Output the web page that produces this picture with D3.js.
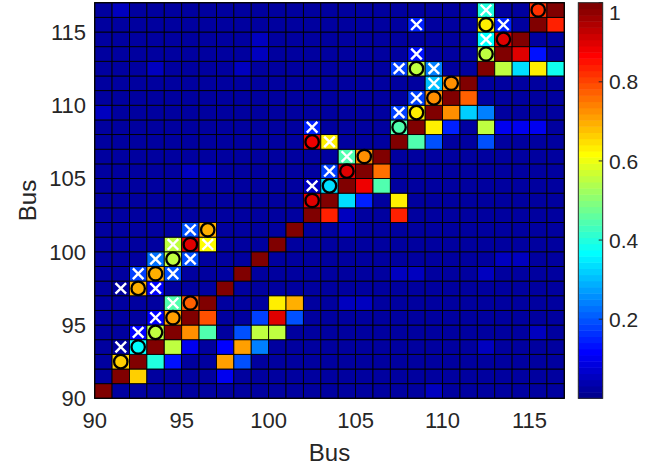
<!DOCTYPE html>
<html>
<head>
<meta charset="utf-8">
<script src="https://cdn.jsdelivr.net/npm/d3@7"></script>
<style>
  body { margin: 0; background: #fff; }
  text { font-family: "Liberation Sans", Arial, sans-serif; fill: #262626; }
</style>
</head>
<body>
<div id="chart"></div>
<script>
// bus numbers on both axes (one cell per bus)
var buses = [90, 91, 92, 93, 94, 95, 96, 97, 98, 99, 100, 101, 102, 103,
  104, 105, 106, 107, 108, 109, 110, 111, 112, 113, 114, 115, 116];
var xTicks = [90, 95, 100, 105, 110, 115];
var yTicks = [90, 95, 100, 105, 110, 115];
var cbTicks = [0.2, 0.4, 0.6, 0.8, 1];

var baseValue = 0.03;   // most cells
var diagValue = 1;      // bus with itself

// slightly lighter background cells [xBus, yBus, value]
var faintCells = [
  [99, 114, 0.06], [99, 113, 0.05], [93, 112, 0.06], [90, 109, 0.05],
  [96, 105, 0.06], [95, 105, 0.05], [98, 112, 0.05], [91, 116, 0.05],
  [113, 99, 0.06], [114, 99, 0.06], [107, 98, 0.05], [108, 98, 0.05],
  [112, 98, 0.05], [112, 93, 0.05], [109, 90, 0.05], [104, 101, 0.05],
  [115, 94, 0.05], [104, 96, 0.05], [105, 96, 0.05]
];

// cells off the diagonal that stand out [xBus, yBus, value]
var hotCells = [
  [92, 91, 0.66], [97, 91, 0.1],
  [91, 92, 0.66], [93, 92, 0.4], [94, 92, 0.13], [97, 92, 0.71], [98, 92, 0.2],
  [92, 93, 0.37], [94, 93, 0.55], [95, 93, 0.1], [97, 93, 0.12], [98, 93, 0.71], [99, 93, 0.24],
  [92, 94, 0.12], [93, 94, 0.55], [95, 94, 0.72], [96, 94, 0.44], [98, 94, 0.2], [99, 94, 0.55], [100, 94, 0.55],
  [93, 95, 0.12], [94, 95, 0.71], [96, 95, 0.79], [99, 95, 0.18], [100, 95, 0.9], [101, 95, 0.2],
  [94, 96, 0.44], [95, 96, 0.78], [100, 96, 0.63], [101, 96, 0.7],
  [92, 97, 0.7], [93, 97, 0.12],
  [92, 98, 0.18], [93, 98, 0.7], [94, 98, 0.2],
  [93, 99, 0.22], [94, 99, 0.55], [95, 99, 0.2],
  [94, 100, 0.55], [95, 100, 0.9], [96, 100, 0.62],
  [95, 101, 0.2], [96, 101, 0.7],
  [103, 102, 0.84], [104, 102, 0.06], [107, 102, 0.84],
  [102, 103, 0.9], [104, 103, 0.33], [105, 103, 0.15], [107, 103, 0.63],
  [102, 104, 0.06], [103, 104, 0.33], [105, 104, 0.88], [106, 104, 0.44],
  [103, 105, 0.18], [104, 105, 0.9], [106, 105, 0.76],
  [104, 106, 0.44], [105, 106, 0.73],
  [102, 107, 0.88], [103, 107, 0.63], [108, 107, 0.44], [109, 107, 0.2], [112, 107, 0.2],
  [102, 108, 0.15], [107, 108, 0.44], [109, 108, 0.63], [110, 108, 0.15], [112, 108, 0.55],
  [113, 108, 0.1], [114, 108, 0.1], [115, 108, 0.1],
  [107, 109, 0.18], [108, 109, 0.63], [110, 109, 0.72], [111, 109, 0.32], [112, 109, 0.24],
  [108, 110, 0.18], [109, 110, 0.72], [111, 110, 0.78],
  [109, 111, 0.3], [110, 111, 0.73],
  [107, 112, 0.18], [108, 112, 0.55], [109, 112, 0.24], [113, 112, 0.55], [114, 112, 0.33],
  [115, 112, 0.63], [116, 112, 0.38],
  [108, 113, 0.13], [112, 113, 0.55], [114, 113, 0.9], [115, 113, 0.14],
  [112, 114, 0.36], [113, 114, 0.9],
  [108, 115, 0.15], [112, 115, 0.63], [113, 115, 0.15], [116, 115, 0.83],
  [112, 116, 0.4], [115, 116, 0.82]
];

// circle markers [xBus, yBus]
var circleMarks = [
  [91, 92], [92, 93], [93, 94], [94, 95], [95, 96], [92, 97], [93, 98], [94, 99],
  [95, 100], [96, 101], [102, 103], [103, 104], [104, 105], [105, 106], [102, 107],
  [107, 108], [108, 109], [109, 110], [110, 111], [108, 112], [112, 113], [113, 114],
  [112, 115], [115, 116]
];

// cross markers [xBus, yBus]
var crossMarks = [
  [91, 93], [92, 94], [93, 95], [94, 96], [91, 97], [93, 97], [92, 98], [94, 98],
  [93, 99], [95, 99], [94, 100], [96, 100], [95, 101], [102, 104], [103, 105],
  [104, 106], [103, 107], [102, 108], [107, 109], [108, 110], [109, 111], [107, 112],
  [109, 112], [108, 113], [112, 114], [108, 115], [113, 115], [112, 116]
];

// matlab jet(64)
function jet64() {
  var n = 16, u = [];
  for (var i = 1; i <= n; i++) u.push(i / n);
  for (var i = 0; i < n - 1; i++) u.push(1);
  for (var i = n; i >= 1; i--) u.push(i / n);
  var get = k => (k >= 1 && k <= u.length) ? u[k - 1] : 0;
  var cols = [];
  for (var k = 1; k <= 64; k++) {
    cols.push(d3.rgb(get(k - 24) * 255, get(k - 8) * 255, get(k + 8) * 255).formatHex());
  }
  return cols;
}
var colorScale = d3.scaleQuantize().domain([0, 1]).range(jet64());

// build the cell table
var cellMap = new Map();
buses.forEach(yb => buses.forEach(xb => {
  cellMap.set(xb + "," + yb, {x: xb, y: yb, v: xb === yb ? diagValue : baseValue});
}));
faintCells.concat(hotCells).forEach(c => { cellMap.get(c[0] + "," + c[1]).v = c[2]; });
var cells = Array.from(cellMap.values());

var svgWidth = 659, svgHeight = 467;
var plot = {left: 94.7, right: 564.3, top: 2.7, bottom: 398.3};

var svg = d3.select("#chart").append("svg")
  .attr("width", svgWidth)
  .attr("height", svgHeight);

var x = d3.scaleLinear().domain([90, 117]).range([plot.left, plot.right]);
var y = d3.scaleLinear().domain([90, 117]).range([plot.bottom, plot.top]);

// heatmap cells
svg.append("g").selectAll("rect")
  .data(cells)
  .enter()
  .append("rect")
  .attr("x", d => x(d.x))
  .attr("y", d => y(d.y + 1))
  .attr("width", d => x(d.x + 1) - x(d.x))
  .attr("height", d => y(d.y) - y(d.y + 1))
  .attr("fill", d => colorScale(d.v))
  .attr("stroke", "#000")
  .attr("stroke-width", 0.9);

// circles, filled like their cell
svg.append("g").selectAll("circle")
  .data(circleMarks)
  .enter()
  .append("circle")
  .attr("cx", d => x(d[0] + 0.5))
  .attr("cy", d => y(d[1] + 0.5))
  .attr("r", 6.7)
  .attr("fill", d => colorScale(cellMap.get(d[0] + "," + d[1]).v))
  .attr("stroke", "#000")
  .attr("stroke-width", 2.3);

// white crosses
var s = 5.3;
svg.append("g").selectAll("path")
  .data(crossMarks)
  .enter()
  .append("path")
  .attr("d", d => {
    var cx = x(d[0] + 0.5), cy = y(d[1] + 0.5);
    return `M${cx - s},${cy - s}L${cx + s},${cy + s}M${cx - s},${cy + s}L${cx + s},${cy - s}`;
  })
  .attr("stroke", "#fff")
  .attr("stroke-width", 2.4)
  .attr("fill", "none");

// plot frame
svg.append("rect")
  .attr("x", plot.left).attr("y", plot.top)
  .attr("width", plot.right - plot.left).attr("height", plot.bottom - plot.top)
  .attr("fill", "none").attr("stroke", "#000").attr("stroke-width", 1.2);

// tick labels
svg.append("g").selectAll("text")
  .data(xTicks)
  .enter()
  .append("text")
  .attr("x", d => x(d))
  .attr("y", 428)
  .attr("text-anchor", "middle")
  .attr("font-size", 22)
  .text(d => d);

svg.append("g").selectAll("text")
  .data(yTicks)
  .enter()
  .append("text")
  .attr("x", 86)
  .attr("y", d => y(d))
  .attr("dy", "0.36em")
  .attr("text-anchor", "end")
  .attr("font-size", 22)
  .text(d => d);

// axis titles
svg.append("text")
  .attr("x", (plot.left + plot.right) / 2)
  .attr("y", 461)
  .attr("text-anchor", "middle")
  .attr("font-size", 24)
  .text("Bus");

svg.append("text")
  .attr("transform", `translate(36, ${(plot.top + plot.bottom) / 2}) rotate(-90)`)
  .attr("text-anchor", "middle")
  .attr("font-size", 24)
  .text("Bus");

// colorbar
var cb = {left: 578.3, right: 602.7};
var cbY = d3.scaleLinear().domain([0, 1]).range([plot.bottom, plot.top]);
var bands = colorScale.range().map((c, i) => ({c: c, lo: i / 64, hi: (i + 1) / 64}));

svg.append("g").selectAll("rect")
  .data(bands)
  .enter()
  .append("rect")
  .attr("x", cb.left)
  .attr("y", d => cbY(d.hi))
  .attr("width", cb.right - cb.left)
  .attr("height", d => cbY(d.lo) - cbY(d.hi) + 0.5)
  .attr("fill", d => d.c);

svg.append("rect")
  .attr("x", cb.left).attr("y", plot.top)
  .attr("width", cb.right - cb.left).attr("height", plot.bottom - plot.top)
  .attr("fill", "none").attr("stroke", "#262626").attr("stroke-width", 1);

svg.append("g").selectAll("line")
  .data(cbTicks)
  .enter()
  .append("line")
  .attr("x1", cb.right - 4).attr("x2", cb.right)
  .attr("y1", d => cbY(d)).attr("y2", d => cbY(d))
  .attr("stroke", "#262626");

// top label kept just inside the picture
svg.append("g").selectAll("text")
  .data(cbTicks)
  .enter()
  .append("text")
  .attr("x", 609)
  .attr("y", d => Math.max(cbY(d), 12))
  .attr("dy", "0.36em")
  .attr("font-size", 21)
  .text(d => d);
</script>
</body>
</html>
